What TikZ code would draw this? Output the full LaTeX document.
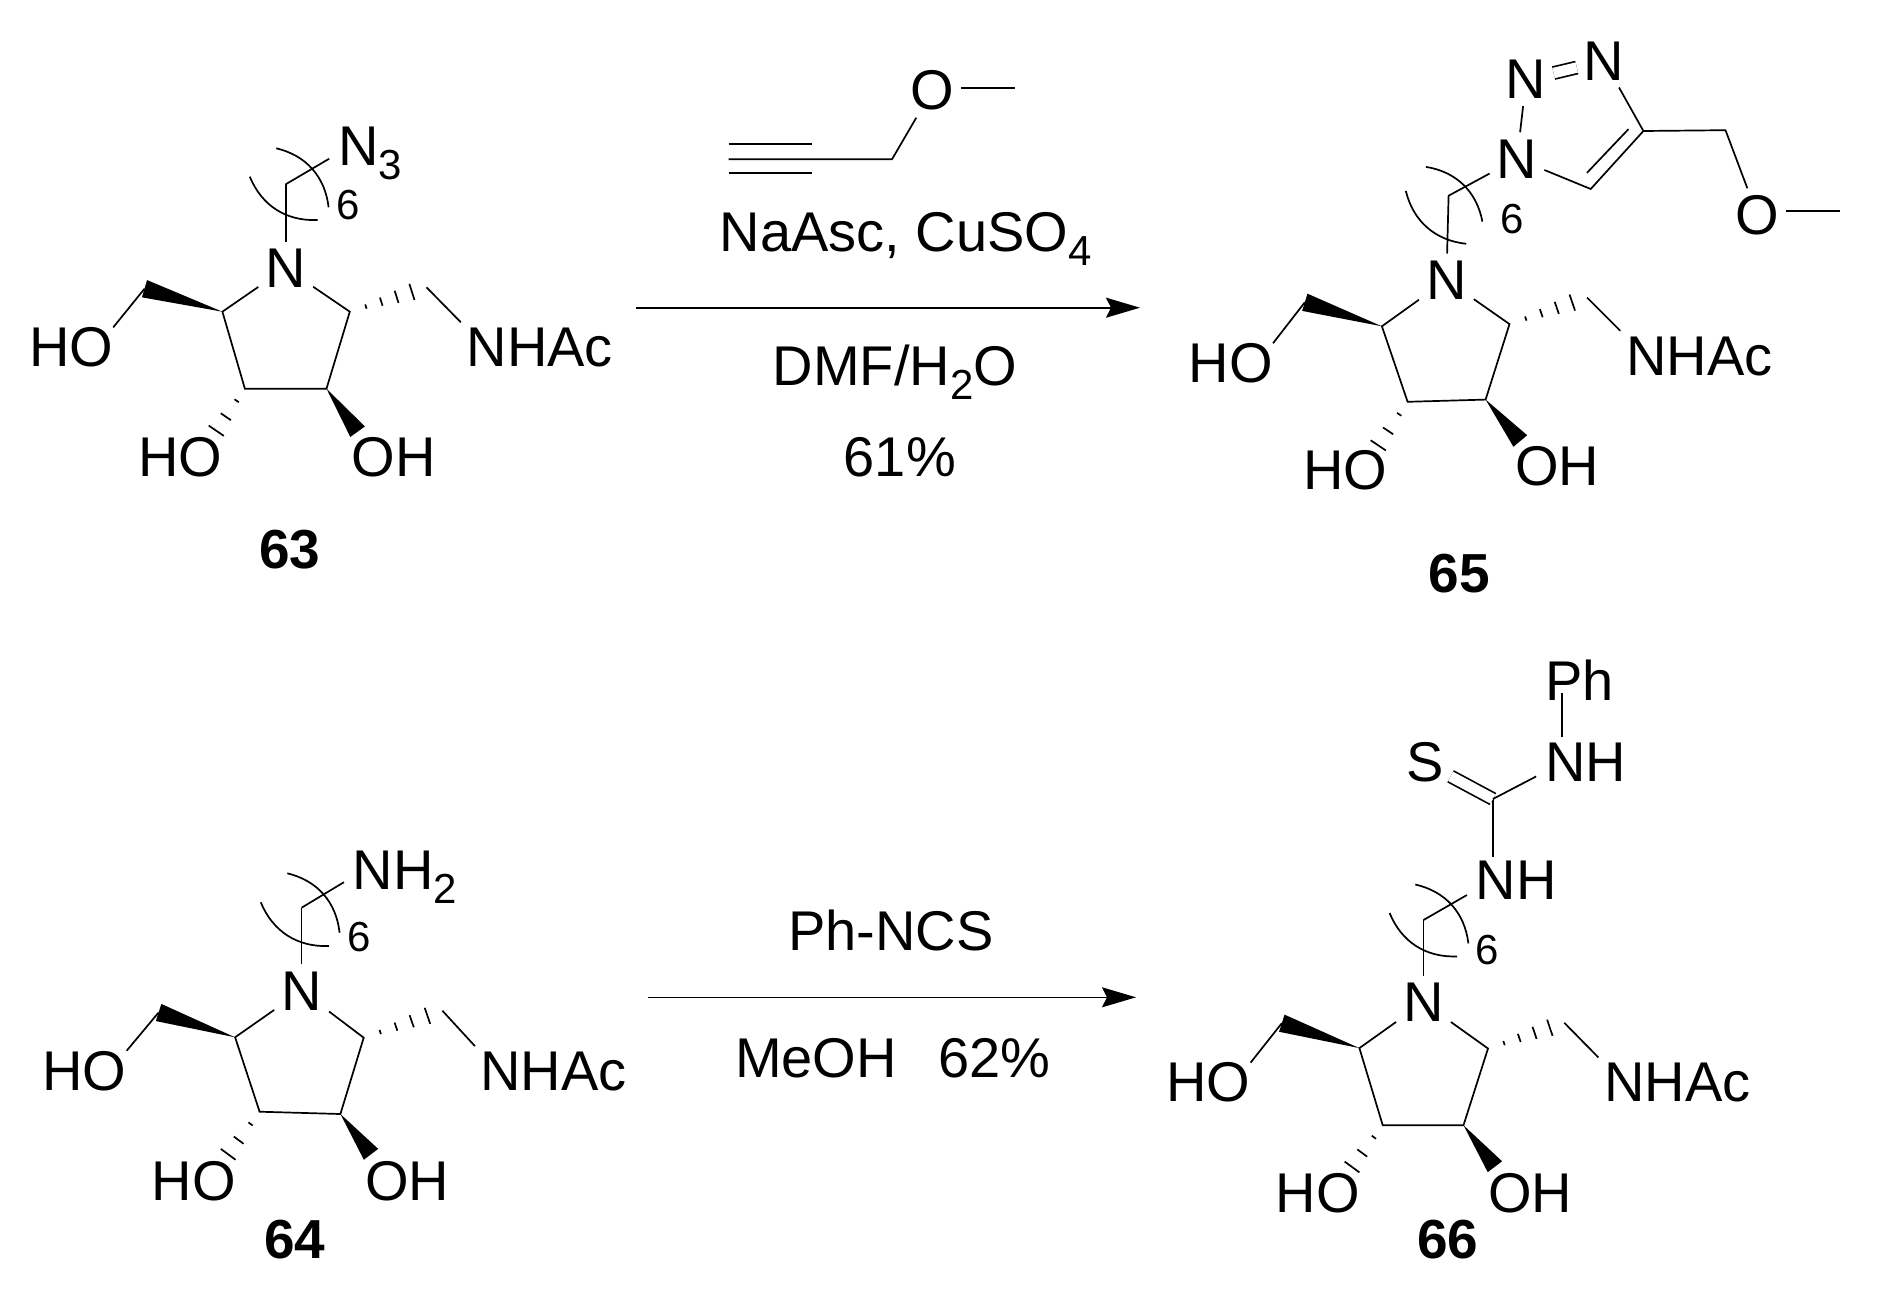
\documentclass[tikz,border=0pt]{standalone}
\usepackage{fontspec}
\setmainfont{Liberation Sans}
\usetikzlibrary{calc,arrows.meta}

\newcommand{\chemsub}[1]{\raisebox{-14pt}{\fontsize{42}{42}\selectfont #1}}
\newcommand{\wedgebond}[2]{\fill (#1) -- ($(#2)!9pt!90:(#1)$) -- ($(#2)!9pt!-90:(#1)$) -- cycle;}
\newcommand{\hashbond}[3]{\foreach \f in {#3} {
    \pgfmathsetmacro{\hashw}{\f*10.5}
    \draw[bond] ($(#1)!\f!(#2)!\hashw pt!90:(#2)$) -- ($(#1)!\f!(#2)!\hashw pt!-90:(#2)$);
}}

\begin{document}
\begin{tikzpicture}[x=1pt, y=-1pt,
    every node/.style = {font=\fontsize{56}{60}\selectfont},
    bond/.style = {line width=1.7pt},
    bonddouble/.style = {bond, double, double distance=10.5pt},
    atom/.style = {anchor=base, inner sep=7pt},
    group/.style = {anchor=base west, inner sep=0pt, xshift=-3pt},
    count/.style = {anchor=base, inner sep=0pt, font=\fontsize{42}{46}\selectfont},
    compound/.style = {anchor=base, inner sep=0pt, font=\fontsize{55}{60}\selectfont\bfseries},
    reaction/.style = {line width=1.6pt, -{Stealth[length=34pt, width=20pt, inset=5pt]}}]
    \useasboundingbox (0,0) rectangle (1877,1306);

    \node[atom] (N63) at (285.7, 287.3) {N};
    \node[group] (OHa63) at (31.8, 366.7) {HO};
    \node[group] (OHb63) at (140.8, 476.7) {HO};
    \node[group] (OHc63) at (354.3, 476.7) {OH};
    \node[group] (NAc63) at (469.4, 366.7) {NHAc};
    \node[group] (Az63) at (340.8, 165.7) {N\chemsub{3}};
    \node[count] (Rep63) at (348, 219) {6};
    \node[compound] (L63) at (290, 568.5) {63};
    \coordinate (Ca63) at (222.4, 311.7);
    \coordinate (Cb63) at (244.9, 388.7);
    \coordinate (Cc63) at (326.5, 388.7);
    \coordinate (Cd63) at (349.8, 311.7);
    \coordinate (Me63) at (144.5, 288.7);
    \coordinate (Ha63) at (426.5, 287.3);
    \coordinate (Hb63) at (212, 437);
    \coordinate (Wc63) at (357.6, 431.7);
    \coordinate (Ch63) at (285.7, 184.3);

    \draw[bond] (N63) -- (Ca63) -- (Cb63) -- (Cc63) -- (Cd63) -- (N63);
    \draw[bond] (N63) -- (Ch63);
    \draw[bond, shorten >=10pt] (Ch63) -- (Az63.west);
    \draw[bond] (Me63) -- (OHa63.north east);
    \draw[bond, shorten >=8pt] (Ha63) -- (NAc63.north west);
    \wedgebond{Ca63}{Me63}
    \wedgebond{Cc63}{Wc63}
    \hashbond{Cd63}{Ha63}{.21,.41,.61,.81}
    \hashbond{Cb63}{Hb63}{.25,.58,.87}
    \draw[bond] (249.8, 176.7) to[bend right=35] (317.6, 220);
    \draw[bond] (276.3, 148.3) to[bend left=35] (328.6, 207.3);

    \node[atom] (N64) at (301.6, 1010) {N};
    \node[group] (OHa64) at (45.3, 1090) {HO};
    \node[group] (OHb64) at (154.7, 1200) {HO};
    \node[group] (OHc64) at (367.8, 1200) {OH};
    \node[group] (NAc64) at (483.3, 1090.7) {NHAc};
    \node[group] (Am64) at (355.5, 889.3) {NH\chemsub{2}};
    \node[count] (Rep64) at (358.8, 951.7) {6};
    \node[compound] (L64) at (295, 1258) {64};
    \coordinate (Ca64) at (235.1, 1037.3);
    \coordinate (Cb64) at (259.6, 1111.7);
    \coordinate (Cc64) at (340.4, 1114);
    \coordinate (Cd64) at (363.7, 1037.7);
    \coordinate (Me64) at (158.6, 1012.5);
    \coordinate (Ha64) at (442.4, 1010.7);
    \coordinate (Hb64) at (223.5, 1160.7);
    \coordinate (Wc64) at (371, 1154.3);
    \coordinate (Ch64) at (301.6, 907.7);

    \draw[bond] (N64) -- (Ca64) -- (Cb64) -- (Cc64) -- (Cd64) -- (N64);
    \draw[bond] (N64) -- (Ch64);
    \draw[bond, shorten >=10pt] (Ch64) -- (Am64.west);
    \draw[bond] (Me64) -- (OHa64.north east);
    \draw[bond, shorten >=8pt] (Ha64) -- (NAc64.north west);
    \wedgebond{Ca64}{Me64}
    \wedgebond{Cc64}{Wc64}
    \hashbond{Cd64}{Ha64}{.21,.41,.61,.81}
    \hashbond{Cb64}{Hb64}{.25,.58,.87}
    \draw[bond] (260.8, 902.3) to[bend right=35] (329, 946);
    \draw[bond] (287.3, 873.3) to[bend left=35] (339.6, 932.7);

    \node[atom] (N65) at (1446.4, 299.3) {N};
    \node[group] (OHa65) at (1191.6, 382.6) {HO};
    \node[group] (OHb65) at (1306.2, 489.9) {HO};
    \node[group] (OHc65) at (1518, 485.4) {OH};
    \node[group] (NAc65) at (1629, 375.2) {NHAc};
    \node[count] (Rep65) at (1512.6, 233.8) {6};
    \node[compound] (L65) at (1459, 592) {65};
    \node[atom] (Na65) at (1517, 178) {N};
    \node[atom] (Nb65) at (1526.2, 98.8) {N};
    \node[atom] (Nc65) at (1604.2, 80.3) {N};
    \node[atom] (O65) at (1757.5, 234.6) {O};
    \coordinate (Ca65) at (1381.9, 326.3);
    \coordinate (Cb65) at (1407.6, 401.8);
    \coordinate (Cc65) at (1485.6, 399.6);
    \coordinate (Cd65) at (1509.5, 324.1);
    \coordinate (Me65) at (1304.8, 302.3);
    \coordinate (Ha65) at (1587, 297.5);
    \coordinate (Hb65) at (1373.9, 451.9);
    \coordinate (Wc65) at (1520.3, 441);
    \coordinate (Ch65) at (1448.6, 195.7);
    \coordinate (Ta65) at (1643.4, 131);
    \coordinate (Tb65) at (1590.7, 189);
    \coordinate (Ia65) at (1628.5, 129.1);
    \coordinate (Ib65) at (1587, 172.8);
    \coordinate (Mt65) at (1725.5, 130.2);
    \coordinate (Cm65) at (1839.5, 211.3);

    \draw[bond] (N65) -- (Ca65) -- (Cb65) -- (Cc65) -- (Cd65) -- (N65);
    \draw[bond] (N65) -- (Ch65) -- (Na65);
    \draw[bond] (Me65) -- (OHa65.north east);
    \draw[bond, shorten >=8pt] (Ha65) -- (NAc65.north west);
    \draw[bond] (Na65) -- (Nb65);
    \draw[bonddouble] (Nb65) -- (Nc65);
    \draw[bond] (Nc65) -- (Ta65) -- (Tb65) -- (Na65);
    \draw[bond] (Ia65) -- (Ib65);
    \draw[bond] (Ta65) -- (Mt65) -- (O65);
    \draw[bond] (O65.east |- Cm65) -- (Cm65);
    \wedgebond{Ca65}{Me65}
    \wedgebond{Cc65}{Wc65}
    \hashbond{Cd65}{Ha65}{.21,.41,.61,.81}
    \hashbond{Cb65}{Hb65}{.25,.58,.87}
    \draw[bond] (1405.8, 190.9) to[bend right=35] (1466.2, 243.8);
    \draw[bond] (1426, 166.9) to[bend left=35] (1482.4, 221.6);

    \node[atom] (N66) at (1423.5, 1021.7) {N};
    \node[group] (OHa66) at (1169.2, 1101.9) {HO};
    \node[group] (OHb66) at (1278.6, 1212.2) {HO};
    \node[group] (OHc66) at (1490.8, 1212.2) {OH};
    \node[group] (NAc66) at (1607, 1101.9) {NHAc};
    \node[count] (Rep66) at (1486.7, 964.3) {6};
    \node[compound] (L66) at (1447.6, 1258) {66};
    \node[group] (NHa66) at (1478.6, 899.9) {NH};
    \node[group] (NHb66) at (1548, 781.7) {NH};
    \node[group] (Ph66) at (1548, 700.7) {Ph};
    \node[atom] (S66) at (1424.7, 781.7) {S};
    \coordinate (Ca66) at (1359.4, 1048.1);
    \coordinate (Cb66) at (1382.7, 1125.2);
    \coordinate (Cc66) at (1463.5, 1125.2);
    \coordinate (Cd66) at (1488, 1048.5);
    \coordinate (Me66) at (1281.8, 1023.2);
    \coordinate (Ha66) at (1564.3, 1022.8);
    \coordinate (Hb66) at (1347.4, 1173.2);
    \coordinate (Wc66) at (1494.9, 1166.7);
    \coordinate (Ch66) at (1423.5, 920);
    \coordinate (Cs66) at (1492.9, 799);

    \draw[bond] (N66) -- (Ca66) -- (Cb66) -- (Cc66) -- (Cd66) -- (N66);
    \draw[bond] (N66) -- (Ch66);
    \draw[bond, shorten >=10pt] (Ch66) -- (NHa66.193);
    \draw[bond] (Me66) -- (OHa66.north east);
    \draw[bond, shorten >=8pt] (Ha66) -- (NAc66.north west);
    \draw[bond, shorten >=4pt] (Cs66) -- (Cs66 |- NHa66.north);
    \draw[bonddouble] (S66) -- (Cs66);
    \draw[bond, shorten >=10pt] (Cs66) -- (NHb66.193);
    \draw[bond] ([xshift=17pt, yshift=8pt]Ph66.base west) -- ([xshift=17pt, yshift=6pt]NHb66.north west);
    \wedgebond{Ca66}{Me66}
    \wedgebond{Cc66}{Wc66}
    \hashbond{Cd66}{Ha66}{.21,.41,.61,.81}
    \hashbond{Cb66}{Hb66}{.25,.58,.87}
    \draw[bond] (1389.6, 913) to[bend right=35] (1457, 956.4);
    \draw[bond] (1415.3, 884.5) to[bend left=35] (1468.4, 943.4);

    \node[atom] (Ot) at (932, 110) {O};
    \coordinate (Yne) at (728.5, 159.3);
    \coordinate (Ymid) at (892, 159.3);
    \coordinate (Yua) at (728.5, 144.3);
    \coordinate (Yub) at (811.8, 144.3);
    \coordinate (Yla) at (728.5, 173.3);
    \coordinate (Ylb) at (811.8, 173.3);
    \coordinate (Ome) at (1015, 87.7);
    \draw[bond] (Yne) -- (Ymid) -- (Ot);
    \draw[bond] (Ot.east |- Ome) -- (Ome);
    \draw[bond] (Yua) -- (Yub);
    \draw[bond] (Yla) -- (Ylb);

    \node[group] (Cat) at (722.6, 251.7) {NaAsc, CuSO\chemsub{4}};
    \node[group] (Sol) at (775.6, 385) {DMF/H\chemsub{2}O};
    \node[group] (Yld) at (846.6, 476.7) {61\%};
    \coordinate (Aa) at (636.2, 307.7);
    \coordinate (Ab) at (1140, 307.7);
    \draw[reaction] (Aa) -- (Ab);

    \node[group] (Rea) at (791, 950) {Ph-NCS};
    \node[group] (Mix) at (737.8, 1077.7) {MeOH};
    \node[group] (Yldb) at (941, 1077.7) {62\%};
    \coordinate (Ac) at (647.5, 997.3);
    \coordinate (Ad) at (1136, 997.3);
    \draw[reaction] (Ac) -- (Ad);
\end{tikzpicture}
\end{document}
